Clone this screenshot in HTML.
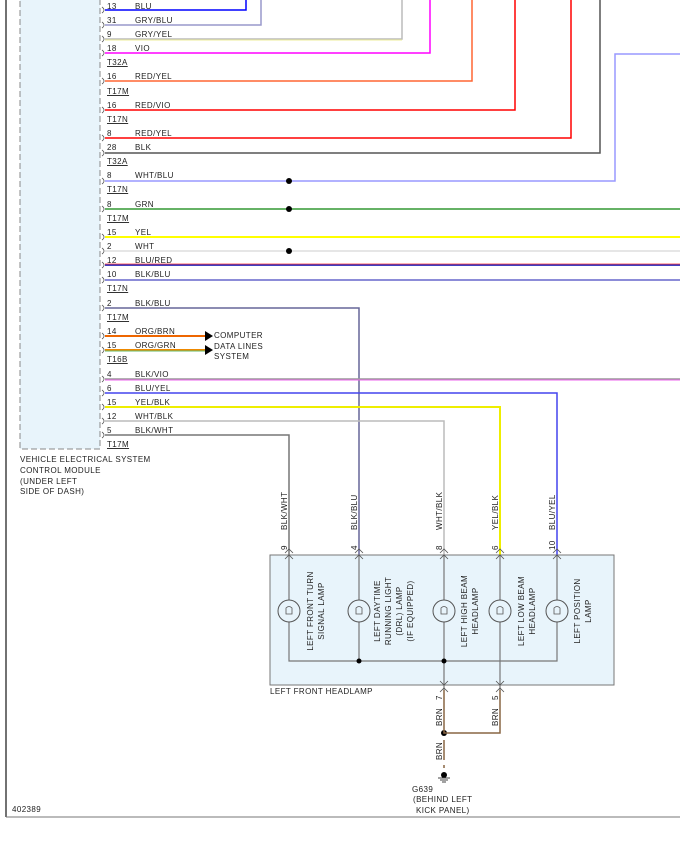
<!DOCTYPE html><html><head><meta charset="utf-8"><style>body{margin:0;background:#fff}svg{display:block}text{font-family:"Liberation Sans",sans-serif;font-size:8px;fill:#222;letter-spacing:.4px}</style></head><body>
<svg width="680" height="849" viewBox="0 0 680 849" xmlns="http://www.w3.org/2000/svg">
<rect x="20" y="-2" width="80" height="451" fill="#e8f4fb" stroke="#888" stroke-dasharray="6,3"/>
<line x1="6" y1="0" x2="6" y2="817" stroke="#444" stroke-width="1.5"/>
<line x1="6" y1="817" x2="680" y2="817" stroke="#777"/>
<g fill="none" stroke-width="1.5">
<path d="M105 10H246V0" stroke="#00f"/>
<path d="M105 25H261V0" stroke="#99c"/>
<path d="M105 39H402V0" stroke="#bbb"/><path d="M105 40H402" stroke="#ee9" stroke-width="1"/>
<path d="M105 53H430V0" stroke="#f0f"/>
<path d="M105 81H472V0" stroke="#f63"/>
<path d="M105 110H515V0" stroke="#f00"/>
<path d="M105 138H571V0" stroke="#f00"/>
<path d="M105 153H600V0" stroke="#555"/>
<path d="M105 181H615V54H680" stroke="#99f"/>
<path d="M105 209H680" stroke="#393"/>
<path d="M105 237H680" stroke="#ff0" stroke-width="2"/>
<path d="M105 251H680" stroke="#ddd"/>
<path d="M105 265H680" stroke="#00a"/><path d="M105 264H680" stroke="#f66" stroke-width="1"/>
<path d="M105 280H680" stroke="#66c"/>
<path d="M105 308H359V555" stroke="#669"/>
<path d="M105 336H205" stroke="#e60" stroke-width="2"/>
<path d="M105 350H205" stroke="#e80" stroke-width="2"/><path d="M105 351H205" stroke="#6b6" stroke-width="1"/>
<path d="M105 379H680" stroke="#999"/><path d="M105 380H680" stroke="#e6e" stroke-width="1"/>
<path d="M105 393H557V555" stroke="#44e"/>
<path d="M105 407H500V555" stroke="#ee0" stroke-width="2"/>
<path d="M105 421H444V555" stroke="#bbb"/>
<path d="M105 435H289V555" stroke="#777"/>
</g>
<g fill="#000"><circle cx="289" cy="181" r="3"/><circle cx="289" cy="209" r="3"/><circle cx="289" cy="251" r="3"/>
<path d="M205 331l8 5-8 5z"/><path d="M205 345l8 5-8 5z"/></g>
<g fill="none" stroke="#555" stroke-width="0.8">
<path d="M102 7q4 3 0 6M102 22q4 3 0 6M102 36q4 3 0 6M102 50q4 3 0 6M102 78q4 3 0 6M102 107q4 3 0 6M102 135q4 3 0 6M102 150q4 3 0 6M102 178q4 3 0 6M102 206q4 3 0 6M102 234q4 3 0 6M102 248q4 3 0 6M102 262q4 3 0 6M102 277q4 3 0 6M102 305q4 3 0 6M102 333q4 3 0 6M102 347q4 3 0 6M102 376q4 3 0 6M102 390q4 3 0 6M102 404q4 3 0 6M102 418q4 3 0 6M102 432q4 3 0 6"/>
</g>
<g>
<text x="107" y="9">13</text><text x="135" y="9">BLU</text>
<text x="107" y="23">31</text><text x="135" y="23">GRY/BLU</text>
<text x="107" y="37">9</text><text x="135" y="37">GRY/YEL</text>
<text x="107" y="51">18</text><text x="135" y="51">VIO</text>
<text x="107" y="79">16</text><text x="135" y="79">RED/YEL</text>
<text x="107" y="108">16</text><text x="135" y="108">RED/VIO</text>
<text x="107" y="136">8</text><text x="135" y="136">RED/YEL</text>
<text x="107" y="150">28</text><text x="135" y="150">BLK</text>
<text x="107" y="178">8</text><text x="135" y="178">WHT/BLU</text>
<text x="107" y="207">8</text><text x="135" y="207">GRN</text>
<text x="107" y="235">15</text><text x="135" y="235">YEL</text>
<text x="107" y="249">2</text><text x="135" y="249">WHT</text>
<text x="107" y="263">12</text><text x="135" y="263">BLU/RED</text>
<text x="107" y="277">10</text><text x="135" y="277">BLK/BLU</text>
<text x="107" y="306">2</text><text x="135" y="306">BLK/BLU</text>
<text x="107" y="334">14</text><text x="135" y="334">ORG/BRN</text>
<text x="107" y="348">15</text><text x="135" y="348">ORG/GRN</text>
<text x="107" y="377">4</text><text x="135" y="377">BLK/VIO</text>
<text x="107" y="391">6</text><text x="135" y="391">BLU/YEL</text>
<text x="107" y="405">15</text><text x="135" y="405">YEL/BLK</text>
<text x="107" y="419">12</text><text x="135" y="419">WHT/BLK</text>
<text x="107" y="433">5</text><text x="135" y="433">BLK/WHT</text>
</g>
<g text-decoration="underline">
<text x="107" y="65">T32A</text><text x="107" y="94">T17M</text><text x="107" y="122">T17N</text><text x="107" y="164">T32A</text><text x="107" y="192">T17N</text><text x="107" y="221">T17M</text><text x="107" y="291">T17N</text><text x="107" y="320">T17M</text><text x="107" y="362">T16B</text><text x="107" y="447">T17M</text>
</g>
<text x="214" y="338">COMPUTER</text><text x="214" y="349">DATA LINES</text><text x="214" y="359">SYSTEM</text>
<text x="20" y="462">VEHICLE ELECTRICAL SYSTEM</text><text x="20" y="473">CONTROL MODULE</text><text x="20" y="484">(UNDER LEFT</text><text x="20" y="494">SIDE OF DASH)</text>
<rect x="270" y="555" width="344" height="130" fill="#e8f4fb" stroke="#777"/>
<g fill="none" stroke="#777" stroke-width="1.2">
<path d="M289 555V661H557V555M359 555V661M444 555V690M500 555V690"/>
</g>
<g fill="none" stroke="#555" stroke-width="0.8">
<path d="M285 553l4-4 4 4M355 553l4-4 4 4M440 553l4-4 4 4M496 553l4-4 4 4M553 553l4-4 4 4M285 559l4-4 4 4M355 559l4-4 4 4M440 559l4-4 4 4M496 559l4-4 4 4M553 559l4-4 4 4M440 681l4 4 4-4M496 681l4 4 4-4M440 692l4-4 4 4M496 692l4-4 4 4"/>
</g>
<g fill="#e8f4fb" stroke="#555">
<circle cx="289" cy="611" r="11"/><circle cx="359" cy="611" r="11"/><circle cx="444" cy="611" r="11"/><circle cx="500" cy="611" r="11"/><circle cx="557" cy="611" r="11"/>
</g>
<g fill="none" stroke="#555" stroke-width="0.8"><path d="M286 608q3-3 6 0v6h-6zM356 608q3-3 6 0v6h-6zM441 608q3-3 6 0v6h-6zM497 608q3-3 6 0v6h-6zM554 608q3-3 6 0v6h-6z"/></g>
<g fill="#000"><circle cx="359" cy="661" r="2.5"/><circle cx="444" cy="661" r="2.5"/><circle cx="444" cy="733" r="3"/><circle cx="444" cy="775" r="3"/></g>
<g stroke="#864" stroke-width="1.5" fill="none"><path d="M444 690V733H500V690"/><path d="M444 740V760M444 765V768" /></g>
<g stroke="#444" fill="none"><path d="M438 778h12M440 780h8M442 782h4"/></g>
<text x="412" y="792" font-size="8">G639</text>
<text x="413" y="802">(BEHIND LEFT</text><text x="416" y="813">KICK PANEL)</text>
<text x="270" y="694">LEFT FRONT HEADLAMP</text>
<text x="12" y="812">402389</text>
<g>
<text transform="translate(287,530) rotate(-90)" fill="#853">BLK/WHT</text>
<text transform="translate(357,530) rotate(-90)" fill="#853">BLK/BLU</text>
<text transform="translate(442,530) rotate(-90)" fill="#853">WHT/BLK</text>
<text transform="translate(498,530) rotate(-90)" fill="#853">YEL/BLK</text>
<text transform="translate(555,530) rotate(-90)" fill="#853">BLU/YEL</text>
<text transform="translate(287,550) rotate(-90)">9</text>
<text transform="translate(357,550) rotate(-90)">4</text>
<text transform="translate(442,550) rotate(-90)">8</text>
<text transform="translate(498,550) rotate(-90)">6</text>
<text transform="translate(555,550) rotate(-90)">10</text>
<text transform="translate(442,700) rotate(-90)">7</text>
<text transform="translate(498,700) rotate(-90)">5</text>
<text transform="translate(442,726) rotate(-90)" fill="#853">BRN</text>
<text transform="translate(498,726) rotate(-90)" fill="#853">BRN</text>
<text transform="translate(442,760) rotate(-90)" fill="#853">BRN</text>
</g>
<g text-anchor="middle">
<text transform="translate(313,611) rotate(-90)">LEFT FRONT TURN</text>
<text transform="translate(324,611) rotate(-90)">SIGNAL LAMP</text>
<text transform="translate(380,611) rotate(-90)">LEFT DAYTIME</text>
<text transform="translate(391,611) rotate(-90)">RUNNING LIGHT</text>
<text transform="translate(402,611) rotate(-90)">(DRL) LAMP</text>
<text transform="translate(413,611) rotate(-90)">(IF EQUIPPED)</text>
<text transform="translate(467,611) rotate(-90)">LEFT HIGH BEAM</text>
<text transform="translate(478,611) rotate(-90)">HEADLAMP</text>
<text transform="translate(524,611) rotate(-90)">LEFT LOW BEAM</text>
<text transform="translate(535,611) rotate(-90)">HEADLAMP</text>
<text transform="translate(580,611) rotate(-90)">LEFT POSITION</text>
<text transform="translate(591,611) rotate(-90)">LAMP</text>
</g>
</svg></body></html>
